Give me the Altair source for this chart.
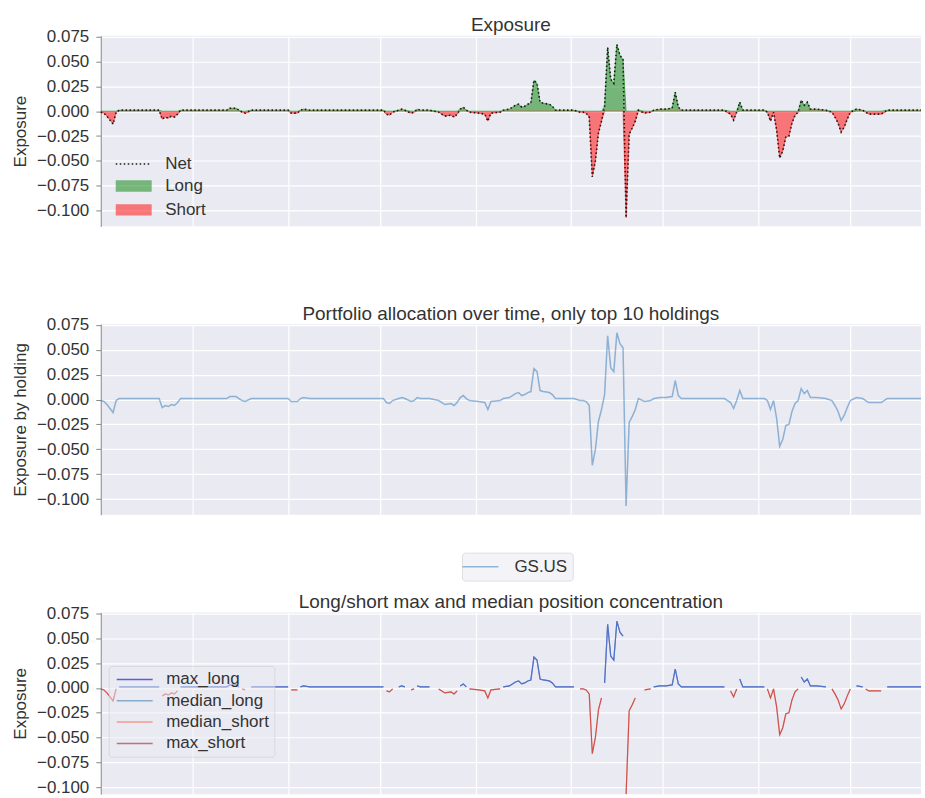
import altair as alt
import pandas as pd

# Net exposure of the single holding, traced at each turning point
dates = [
    "2016-04-01", "2016-04-02", "2016-04-03", "2016-04-05", "2016-04-06", "2016-04-07",
    "2016-04-20", "2016-04-21", "2016-04-22", "2016-04-23", "2016-04-24", "2016-04-25",
    "2016-04-26", "2016-04-27", "2016-05-12", "2016-05-13", "2016-05-15", "2016-05-16",
    "2016-05-17", "2016-05-18", "2016-05-20", "2016-06-01", "2016-06-02", "2016-06-04",
    "2016-06-05", "2016-06-06", "2016-06-08", "2016-07-02", "2016-07-03", "2016-07-04",
    "2016-07-05", "2016-07-07", "2016-07-08", "2016-07-09", "2016-07-11", "2016-07-12",
    "2016-07-13", "2016-07-14", "2016-07-17", "2016-07-20", "2016-07-22", "2016-07-24",
    "2016-07-25", "2016-07-26", "2016-07-27", "2016-07-28", "2016-07-29", "2016-07-30",
    "2016-08-02", "2016-08-04", "2016-08-05", "2016-08-06", "2016-08-09", "2016-08-10",
    "2016-08-12", "2016-08-14", "2016-08-15", "2016-08-16", "2016-08-17", "2016-08-18",
    "2016-08-19", "2016-08-20", "2016-08-21", "2016-08-22", "2016-08-23", "2016-08-25",
    "2016-08-26", "2016-08-27", "2016-09-02", "2016-09-04", "2016-09-05", "2016-09-06",
    "2016-09-07", "2016-09-08", "2016-09-09", "2016-09-10", "2016-09-11", "2016-09-12",
    "2016-09-13", "2016-09-14", "2016-09-15", "2016-09-16", "2016-09-17", "2016-09-18",
    "2016-09-19", "2016-09-20", "2016-09-21", "2016-09-22", "2016-09-23", "2016-09-25",
    "2016-09-27", "2016-09-28", "2016-09-30", "2016-10-02", "2016-10-04", "2016-10-05",
    "2016-10-06", "2016-10-07", "2016-10-21", "2016-10-23", "2016-10-24", "2016-10-25",
    "2016-10-26", "2016-10-27", "2016-11-03", "2016-11-04", "2016-11-05", "2016-11-06",
    "2016-11-07", "2016-11-08", "2016-11-09", "2016-11-10", "2016-11-11", "2016-11-12",
    "2016-11-13", "2016-11-14", "2016-11-15", "2016-11-16", "2016-11-17", "2016-11-18",
    "2016-11-20", "2016-11-23", "2016-11-25", "2016-11-26", "2016-11-27", "2016-11-28",
    "2016-11-29", "2016-11-30", "2016-12-01", "2016-12-03", "2016-12-05", "2016-12-06",
    "2016-12-07", "2016-12-11", "2016-12-13", "2016-12-24",
]
exposure = [
    -0.001, -0.002, -0.005, -0.013, -0.001, 0.001,
    0.001, -0.008, -0.006, -0.007, -0.005, -0.006,
    -0.003, 0.001, 0.001, 0.003, 0.003, 0.001,
    -0.001, -0.002, 0.001, 0.001, -0.002, -0.002,
    0.001, 0.002, 0.001, 0.001, -0.003, -0.004,
    -0.001, 0.001, 0.002, 0.001, -0.002, -0.001,
    0.002, 0.001, 0.001, -0.001, -0.005, -0.004,
    -0.006, -0.003, 0.002, 0.004, 0.001, -0.001,
    -0.002, -0.003, -0.010, -0.002, -0.001, 0.001,
    0.002, 0.006, 0.007, 0.004, 0.005, 0.007,
    0.008, 0.031, 0.028, 0.009, 0.008, 0.007,
    0.005, 0.001, 0.001, -0.001, -0.001, -0.002,
    -0.006, -0.066, -0.050, -0.022, -0.010, 0.005,
    0.064, 0.032, 0.028, 0.067, 0.056, 0.052,
    -0.107, -0.023, -0.017, -0.010, 0.001, -0.002,
    -0.001, 0.001, 0.002, 0.002, 0.003, 0.019,
    0.004, 0.001, 0.001, -0.003, -0.009, -0.001,
    0.009, 0.001, 0.001, -0.001, -0.010, -0.001,
    -0.019, -0.047, -0.040, -0.026, -0.025, -0.012,
    -0.004, -0.001, 0.011, 0.006, 0.009, 0.002,
    0.002, 0.001, -0.001, -0.006, -0.012, -0.021,
    -0.016, -0.008, -0.001, 0.002, 0.001, -0.001,
    -0.003, -0.003, 0.001, 0.001,
]
holding = "GS.US"

side_kinds = ["Long", "Short"]
side_colors = ["green", "red"]
concentration_series = ["max_long", "median_long", "median_short", "max_short"]
concentration_colors = ["mediumblue", "steelblue", "tomato", "firebrick"]

FONT = "Liberation Sans"
TEXT = "#333333"
PANEL_W = 822
PANEL_H = 191
Y_TICKS = [-0.100, -0.075, -0.050, -0.025, 0.0, 0.025, 0.050, 0.075]
Y_DOMAIN = [-0.1157, 0.0757]
X_DOMAIN = [
    alt.DateTime(year=2016, month=4, date=1, utc=True),
    alt.DateTime(year=2016, month=12, date=24, utc=True),
]
LEGEND_FILL = "rgba(234,234,242,0.5)"
LEGEND_EDGE = "rgba(204,204,204,0.6)"
LINE_SYMBOL = "M-3,0H3"
BOX_SYMBOL = "M-3,-0.95H3V0.95H-3Z"

base = pd.DataFrame({"date": dates, "net": exposure})
base["Long"] = base["net"].clip(lower=0)
base["Short"] = base["net"].clip(upper=0)

# Panel 1 tables: net line plus long / short parts
net_df = pd.DataFrame({"date": base["date"], "kind": "Net", "exposure": base["net"]})
parts_df = base.melt(id_vars="date", value_vars=side_kinds,
                     var_name="kind", value_name="exposure")

# Panel 2 table: allocation of the single top holding
alloc_df = pd.DataFrame({"date": base["date"], "holding": holding, "exposure": base["net"]})

# Panel 3 table: max / median long and short concentration (one holding)
longs = base["net"].where(base["net"] > 0)
shorts = base["net"].where(base["net"] < 0)
conc_frames = []
for name, col in zip(concentration_series, [longs, longs, shorts, shorts]):
    conc_frames.append(pd.DataFrame({"date": base["date"], "series": name, "exposure": col}))
conc_df = pd.concat(conc_frames, ignore_index=True)


def x_enc():
    return alt.X(
        "date:T",
        scale=alt.Scale(type="utc", domain=X_DOMAIN),
        axis=alt.Axis(title=None, labels=False, ticks=False, domain=False, grid=True,
                      tickCount={"interval": "month", "step": 1}),
    )


def y_enc(title, domain=Y_DOMAIN):
    return alt.Y(
        "exposure:Q",
        stack=None,
        scale=alt.Scale(domain=domain, nice=False, zero=False),
        axis=alt.Axis(title=title, values=Y_TICKS, format=".3f", grid=True),
    )


def legend(x, y, padding, row_pad, sym_offset, label_offset, boxed=True, **kw):
    return alt.Legend(
        title=None, orient="none", legendX=x, legendY=y, padding=padding,
        rowPadding=row_pad,
        fillColor=LEGEND_FILL if boxed else "transparent",
        strokeColor=LEGEND_EDGE if boxed else "transparent",
        cornerRadius=3, labelFont=FONT, labelFontSize=17, labelColor=TEXT,
        symbolSize=144, symbolOffset=sym_offset, labelOffset=label_offset, **kw,
    )


# ---- Panel 1: exposure ----
side_legend = legend(8, 138, 4, 6, 12.5, 23, boxed=False,
                     symbolType=BOX_SYMBOL, symbolStrokeWidth=0, symbolOpacity=0.5)
net_legend = legend(8, 116, 4, 0, 12.5, 23, boxed=False,
                    symbolType=LINE_SYMBOL, symbolDash=[1.5, 2.5], symbolStrokeWidth=1.6)

areas = alt.Chart(parts_df).mark_area(opacity=0.5).encode(
    x=x_enc(), y=y_enc("Exposure"),
    fill=alt.Fill("kind:N", scale=alt.Scale(domain=side_kinds, range=side_colors),
                  legend=side_legend),
)
edges = alt.Chart(parts_df).mark_line(opacity=0.5, strokeWidth=1).encode(
    x=x_enc(), y=y_enc("Exposure"), detail="kind:N",
    stroke=alt.condition("datum.kind === 'Long'", alt.value("green"), alt.value("red")),
)
net_line = alt.Chart(net_df).mark_line(strokeDash=[1.5, 2.5], strokeWidth=1.6).encode(
    x=x_enc(), y=y_enc("Exposure"),
    stroke=alt.Stroke("kind:N", scale=alt.Scale(domain=["Net"], range=["#1a1a1a"]),
                      legend=net_legend),
)
panel1 = alt.layer(areas, edges, net_line).properties(
    width=PANEL_W, height=PANEL_H, title="Exposure"
)

# ---- Panel 2: allocation of top holdings ----
alloc_legend = legend(362, 229, 5.5, 0, 4.5, 25.5,
                      symbolType=LINE_SYMBOL, symbolStrokeWidth=1.5)
panel2 = alt.Chart(alloc_df).mark_line(opacity=0.5, strokeWidth=1.5).encode(
    x=x_enc(),
    y=y_enc("Exposure by holding"),
    color=alt.Color("holding:N", scale=alt.Scale(domain=[holding], range=["#2f77b5"]),
                    legend=alloc_legend),
).properties(width=PANEL_W, height=PANEL_H,
             title="Portfolio allocation over time, only top 10 holdings")

# ---- Panel 3: long / short position concentration ----
conc_legend = legend(8, 53.5, 5, 3.4, 12.5, 23,
                     symbolType=LINE_SYMBOL, symbolStrokeWidth=1.5)
panel3_h = 182
panel3_domain = [Y_DOMAIN[1] - panel3_h * (Y_DOMAIN[1] - Y_DOMAIN[0]) / PANEL_H, Y_DOMAIN[1]]
panel3 = alt.Chart(conc_df).mark_line(opacity=0.6, strokeWidth=1.2, clip=True).encode(
    x=x_enc(),
    y=y_enc("Exposure", domain=panel3_domain),
    color=alt.Color("series:N",
                    scale=alt.Scale(domain=concentration_series, range=concentration_colors),
                    legend=conc_legend),
).properties(width=PANEL_W, height=panel3_h,
             title="Long/short max and median position concentration")

chart = alt.vconcat(panel1, panel2, panel3, spacing=98, bounds="flush").resolve_scale(
    color="independent", fill="independent", stroke="independent"
).properties(
    padding={"left": 11, "top": 15, "right": 0, "bottom": 0}
).configure_view(
    fill="#EAEAF2", strokeWidth=0
).configure_axis(
    gridColor="white", gridWidth=1.2, labelFont=FONT, labelFontSize=17, labelColor=TEXT,
    titleFont=FONT, titleFontSize=17, titleColor=TEXT, titleFontWeight="normal",
    labelPadding=7, titlePadding=7,
).configure_title(
    font=FONT, fontSize=19, fontWeight="normal", color=TEXT, offset=-8
).configure_legend(
    labelFont=FONT
)

chart.save("out.html", embed_options={"renderer": "svg", "actions": False})
